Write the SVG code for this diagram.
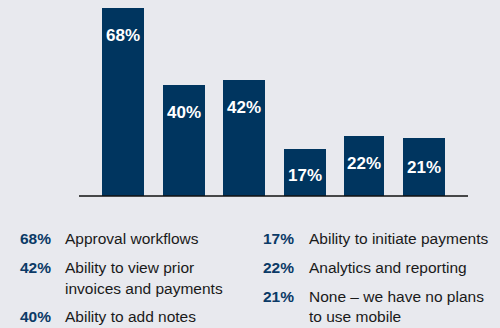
<svg xmlns="http://www.w3.org/2000/svg" width="500" height="328" viewBox="0 0 500 328">
<style>
.bar{fill:#00355f}
.bl{font-family:"Liberation Sans",Arial,sans-serif;font-weight:bold;font-size:17px;fill:#ffffff;text-anchor:middle}
.pc{font-family:"Liberation Sans",Arial,sans-serif;font-weight:bold;font-size:15.5px;fill:#0b3a66}
.lt{font-family:"Liberation Sans",Arial,sans-serif;font-size:15.5px;fill:#1a1a1a}
</style>
<rect x="0" y="0" width="500" height="328" fill="#e8e9ee"/>
<g id="bar-68"><rect class="bar" x="102" y="8" width="42" height="188"/><text class="bl" x="123" y="41">68%</text></g>
<g id="bar-40"><rect class="bar" x="163" y="85" width="42" height="111"/><text class="bl" x="184" y="118">40%</text></g>
<g id="bar-42"><rect class="bar" x="223" y="80" width="42" height="116"/><text class="bl" x="244" y="113">42%</text></g>
<g id="bar-17"><rect class="bar" x="284" y="149" width="42" height="47"/><text class="bl" x="305" y="181">17%</text></g>
<g id="bar-22"><rect class="bar" x="344" y="136" width="40" height="60"/><text class="bl" x="364" y="169">22%</text></g>
<g id="bar-21"><rect class="bar" x="403" y="138" width="42" height="58"/><text class="bl" x="424" y="173">21%</text></g>
<g id="axis"><line x1="79" y1="196" x2="468" y2="196" stroke="#111" stroke-width="1.6"/></g>
<g id="legend">
<text class="pc" x="20" y="244">68%</text><text class="lt" x="65" y="244">Approval workflows</text>
<text class="pc" x="20" y="273">42%</text><text class="lt" x="65" y="273">Ability to view prior</text>
<text class="lt" x="65" y="294">invoices and payments</text>
<text class="pc" x="20" y="322">40%</text><text class="lt" x="65" y="322">Ability to add notes</text>
<text class="pc" x="263" y="244">17%</text><text class="lt" x="309" y="244">Ability to initiate payments</text>
<text class="pc" x="263" y="273">22%</text><text class="lt" x="309" y="273">Analytics and reporting</text>
<text class="pc" x="263" y="302">21%</text><text class="lt" x="309" y="302">None – we have no plans</text>
<text class="lt" x="309" y="322">to use mobile</text>
</g>
</svg>
